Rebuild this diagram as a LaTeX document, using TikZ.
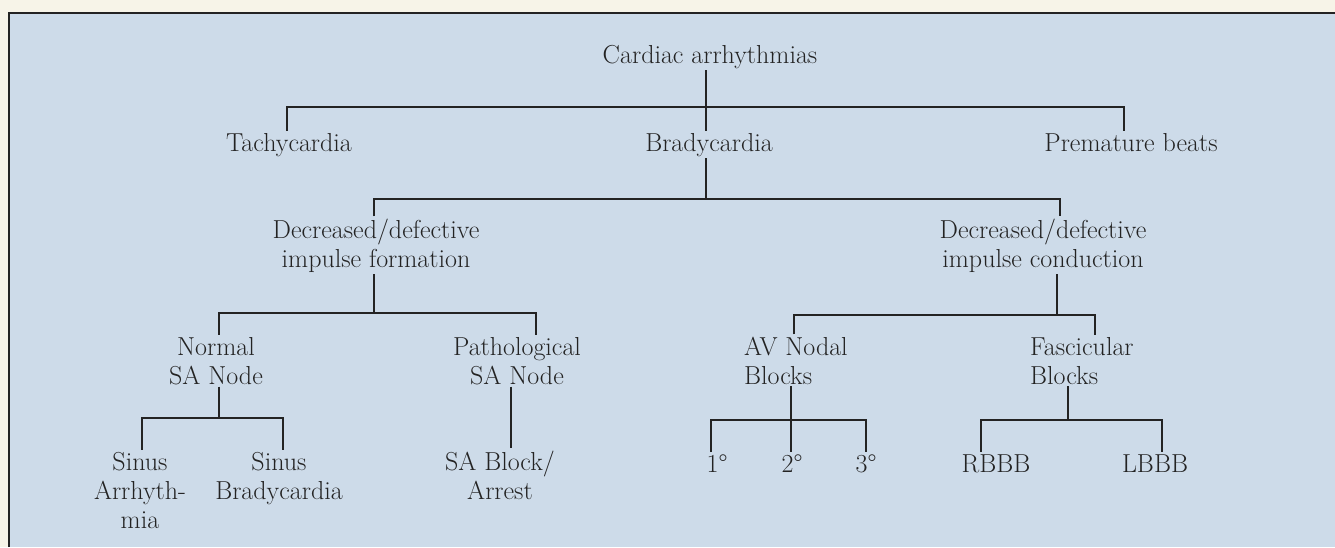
\documentclass[tikz,border=0pt]{standalone}
\usepackage{fontspec}
\definecolor{bg}{RGB}{205,219,233}
\definecolor{cream}{RGB}{247,244,232}
\definecolor{ink}{RGB}{35,35,35}
\begin{document}
\begin{tikzpicture}[x=1pt,y=-1pt,
  lbl/.style={font=\fontsize{26}{29}\selectfont, text=ink, inner sep=2pt, align=center, anchor=base},
  lbll/.style={lbl, align=left, anchor=base west},
  conn/.style={draw=ink, line width=1.3pt}]
\useasboundingbox (0,0) rectangle (1335,547);
\fill[cream] (0,0) rectangle (1335,547);
\fill[bg] (9,13) rectangle (1335,547);
\draw[ink, line width=2pt] (9,547) -- (9,13) -- (1335,13);

% nodes (base = baseline of last line)
\node[lbl] (root) at (710,63) {Cardiac arrhythmias};
\node[lbl] (tachy) at (289,151) {Tachycardia};
\node[lbl] (brady) at (709,151) {Bradycardia};
\node[lbl] (prem) at (1131,151) {Premature beats};
\node[lbl] (form) at (376,267) {Decreased/defective\\impulse formation};
\node[lbl] (cond) at (1043,267) {Decreased/defective\\impulse conduction};
\node[lbl] (normal) at (216,384) {Normal\\SA Node};
\node[lbl] (patho) at (517,384) {Pathological\\SA Node};
\node[lbll] (av) at (742,384) {AV Nodal\\Blocks};
\node[lbll] (fasc) at (1028,384) {Fascicular\\Blocks};
\node[lbl] (sarr) at (140,528) {Sinus\\Arrhyth-\\mia};
\node[lbl] (sbrady) at (279,499) {Sinus\\Bradycardia};
\node[lbl] (sablock) at (500,499) {SA Block/\\Arrest};
\node[lbl] (d1) at (717,472) {1\textdegree};
\node[lbl] (d2) at (792,472) {2\textdegree};
\node[lbl] (d3) at (866,472) {3\textdegree};
\node[lbl] (rbbb) at (996,472) {RBBB};
\node[lbl] (lbbb) at (1155,472) {LBBB};

% connectors
\coordinate (b1) at (706,107);
\draw[conn] (root.south -| b1) -- (brady.north -| b1);
\draw[conn] ([xshift=-2]tachy.north) |- (b1) -| ([xshift=-7]prem.north);

\coordinate (b2) at (706,199);
\draw[conn] (brady.south -| b2) -- (b2);
\draw[conn] ([xshift=-2]form.north) |- (b2) -| ([xshift=17]cond.north);

\coordinate (b3) at (374,313);
\draw[conn] (form.south -| b3) -- (b3);
\draw[conn] ([xshift=3]normal.north) |- (b3) -| ([xshift=19]patho.north);

\coordinate (b4) at (1057,315);
\draw[conn] (cond.south -| b4) -- (b4);
\draw[conn] ([xshift=-2]av.north) |- (b4) -| ([xshift=13]fasc.north);

\coordinate (b5) at (219,418);
\draw[conn] (normal.south -| b5) -- (b5);
\draw[conn] ([xshift=2]sarr.north) |- (b5) -| ([xshift=4]sbrady.north);

\coordinate (p6) at ([xshift=11]sablock.north);
\draw[conn] (patho.south -| p6) -- (p6);

\coordinate (b6) at (791,420);
\draw[conn] (av.south -| b6) -- (d2.north -| b6);
\draw[conn] ([xshift=-6]d1.north) |- (b6) -| (d3.north);

\coordinate (b7) at (1068,420);
\draw[conn] (fasc.south -| b7) -- (b7);
\draw[conn] ([xshift=-15]rbbb.north) |- (b7) -| ([xshift=7]lbbb.north);
\end{tikzpicture}
\end{document}
